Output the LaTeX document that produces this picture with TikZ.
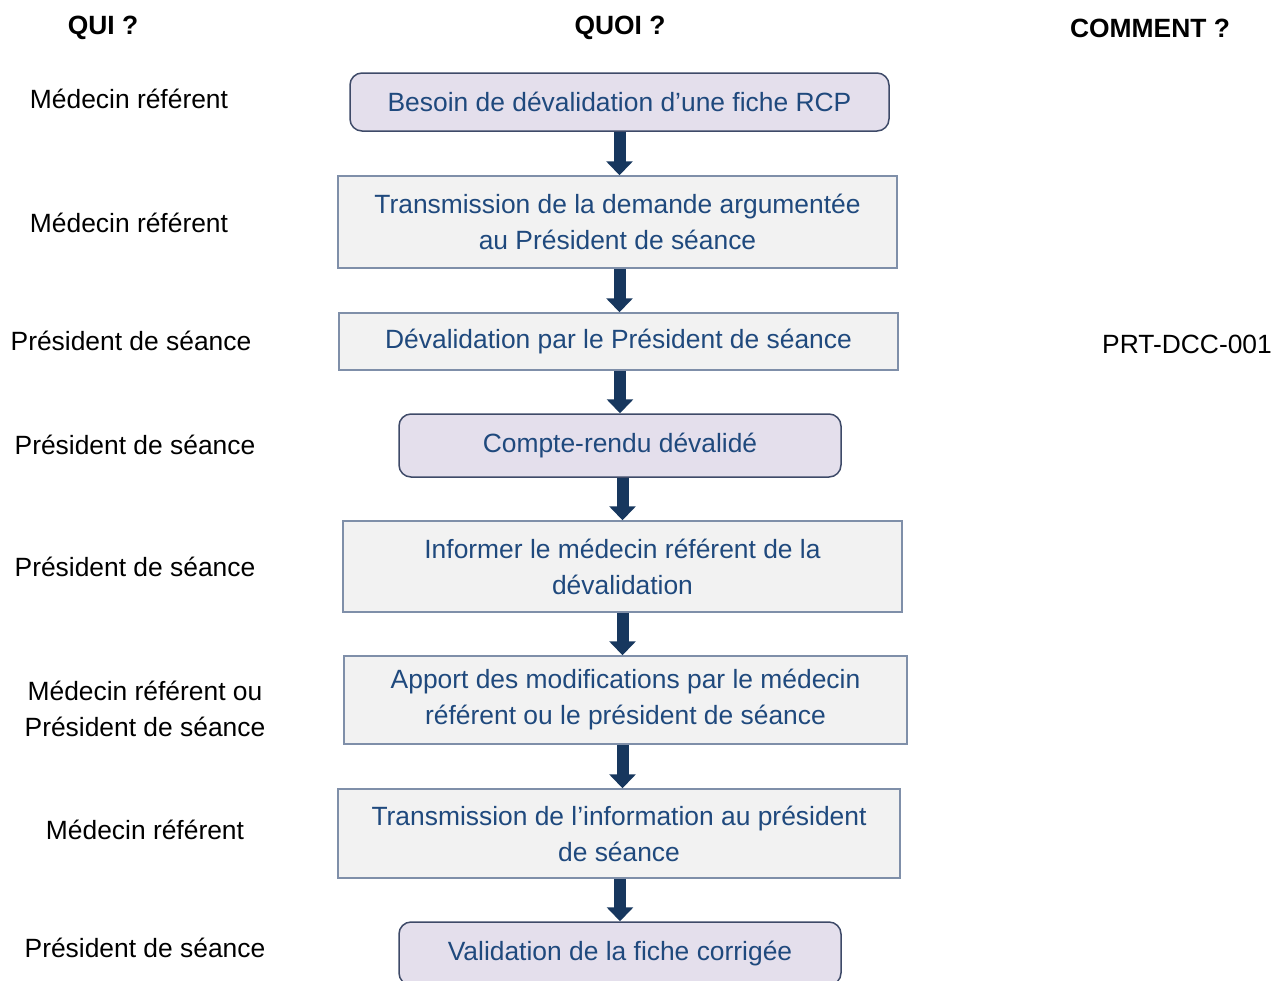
\documentclass[tikz,border=0pt]{standalone}
\usepackage{fontspec}
\setmainfont{Liberation Sans}
\usetikzlibrary{arrows.meta}
\definecolor{boxtext}{HTML}{1F497D}
\definecolor{lavender}{HTML}{E4DFEC}
\definecolor{paleg}{HTML}{F2F2F2}
\definecolor{roundline}{HTML}{3E4A68}
\definecolor{squareline}{HTML}{7F8FA9}
\definecolor{arrowblue}{HTML}{17375E}
\begin{document}
\begin{tikzpicture}[x=0.5pt,y=-0.5pt,
  every node/.style={font=\fontsize{13.2}{18}\selectfont, align=center, inner sep=0pt},
  rbox/.style={draw=roundline, fill=lavender, rounded corners=6pt, text=boxtext, line width=0.75pt},
  sbox/.style={draw=squareline, fill=paleg, text=boxtext, line width=0.75pt},
  head/.style={font=\fontsize{13.2}{18}\selectfont\bfseries},
  flow/.style={line width=6pt, color=arrowblue, -{Triangle[width=13pt,length=7pt]}}]
  \useasboundingbox (0,0) rectangle (1287,981);
  % headers
  \node[head] (qui) at (103,28) {QUI ?};
  \node[head] (quoi) at (620,28) {QUOI ?};
  \node[head] (comment) at (1150,28) {COMMENT ?};
  % steps
  \node[rbox, minimum width=269.5pt, minimum height=29pt] (b1) at (619.5,102) {Besoin de dévalidation d’une fiche RCP};
  \node[sbox, minimum width=279.5pt, minimum height=46pt] (b2) at (617.5,222) {Transmission de la demande argumentée\\au Président de séance};
  \node[sbox, minimum width=279.5pt, minimum height=28.5pt] (b3) at (618.5,341.5) {Dévalidation par le Président de séance};
  \node[rbox, minimum width=221pt, minimum height=31.5pt] (b4) at (620,445.5) {Compte-rendu dévalidé};
  \node[sbox, minimum width=279.5pt, minimum height=45.5pt] (b5) at (622.5,566.5) {Informer le médecin référent de la\\dévalidation};
  \node[sbox, minimum width=281.5pt, minimum height=44pt] (b6) at (625.5,700) {Apport des modifications par le médecin\\référent ou le président de séance};
  \node[sbox, minimum width=281pt, minimum height=44.5pt] (b7) at (619,833.5) {Transmission de l’information au président\\de séance};
  \node[rbox, minimum width=221pt, minimum height=31.5pt] (b8) at (620,953.5) {Validation de la fiche corrigée};
  % who
  \node (w1) at (129,99) {Médecin référent};
  \node (w2) at (129,223) {Médecin référent};
  \node (w3) at (131,341) {Président de séance};
  \node (w4) at (135,445) {Président de séance};
  \node (w5) at (135,567) {Président de séance};
  \node (w6) at (145,709) {Médecin référent ou\\Président de séance};
  \node (w7) at (145,830) {Médecin référent};
  \node (w8) at (145,948) {Président de séance};
  % how
  \node (h3) at (1187,344) {PRT-DCC-001};
  \path[flow]
  (b1.south) edge (b1.south |- b2.north)
  (b2.south -| b1.south) edge (b1.south |- b3.north)
  (b3.south -| b4.south) edge (b4.north)
  (b4.south -| b5.south) edge (b5.north)
  (b5.south) edge (b5.south |- b6.north)
  (b6.south -| b5.south) edge (b5.south |- b7.north)
  (b7.south -| b4.south) edge (b8.north);
\end{tikzpicture}
\end{document}
